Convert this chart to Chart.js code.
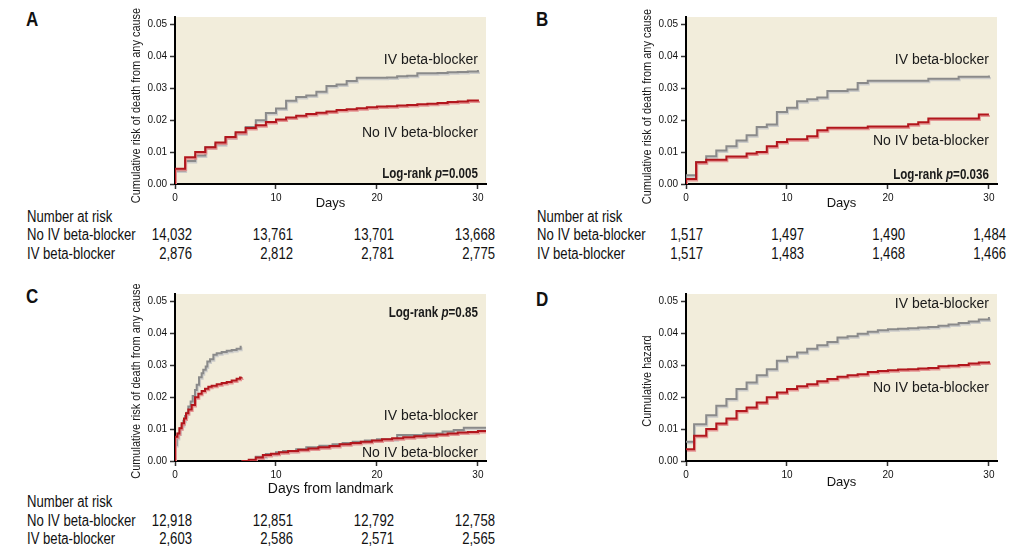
<!DOCTYPE html>
<html>
<head>
<meta charset="utf-8">
<script src="https://cdn.jsdelivr.net/npm/chart.js@4.4.1/dist/chart.umd.min.js"></script>
<style>
body { margin: 0; background: #fff; width: 1033px; height: 555px; position: relative; overflow: hidden; }
canvas { position: absolute; }
.letter { position: absolute; font: bold 20px "Liberation Sans", Arial, sans-serif; line-height: 20px; color: #111; transform: scaleX(0.85); transform-origin: left center; }
.risk { position: absolute; font: 16px "Liberation Sans", Arial, sans-serif; line-height: 18px; color: #111; white-space: nowrap; transform: scaleX(0.82); transform-origin: left center; }
.risk.num { text-align: right; transform-origin: right center; }
</style>
</head>
<body>
<div class="letter" style="left:26px;top:9px">A</div>
<div class="letter" style="left:536px;top:9px">B</div>
<div class="letter" style="left:26px;top:286px">C</div>
<div class="letter" style="left:536px;top:289px">D</div>
<canvas id="chartA" width="375" height="215" style="left:125px;top:0px"></canvas>
<canvas id="chartB" width="375" height="215" style="left:636px;top:0px"></canvas>
<canvas id="chartC" width="375" height="220" style="left:125px;top:277px"></canvas>
<canvas id="chartD" width="375" height="215" style="left:636px;top:277px"></canvas>
<script>
var REGULAR = '"Liberation Sans", Arial, sans-serif';

var xTicks = [0, 10, 20, 30];
var yTicks = [0, 0.01, 0.02, 0.03, 0.04, 0.05];
var riskDays = [0, 10, 20, 30];

// A - whole population
var daysA = [0, 0, 1, 2, 3, 4, 5, 6, 7, 8, 9, 10, 11, 12, 13, 14, 15, 16, 17, 18, 19, 20, 21, 22, 23, 24, 25, 26, 27, 28, 29, 30];
var noIvA = [0, 0.0048, 0.0084, 0.0100, 0.0115, 0.0130, 0.0147, 0.0162, 0.0175, 0.0184, 0.0194, 0.0202, 0.0208, 0.0213, 0.0219, 0.0223, 0.0227, 0.0231, 0.0234, 0.0237, 0.0240, 0.0242, 0.0243, 0.0245, 0.0247, 0.0249, 0.0251, 0.0253, 0.0256, 0.0258, 0.0261, 0.0264];
var ivA = [0, 0.0042, 0.0072, 0.0089, 0.0115, 0.0124, 0.0145, 0.0158, 0.0178, 0.0199, 0.0222, 0.0236, 0.0260, 0.0272, 0.0277, 0.0288, 0.0306, 0.0311, 0.0322, 0.0332, 0.0332, 0.0332, 0.0333, 0.0337, 0.0338, 0.0346, 0.0346, 0.0347, 0.0349, 0.0350, 0.0352, 0.0356];
var riskNoA = ['14,032', '13,761', '13,701', '13,668'];
var riskIvA = ['2,876', '2,812', '2,781', '2,775'];

// B - matched
var daysB = [0, 0, 1, 2, 3, 4, 5, 6, 7, 8, 9, 10, 11, 12, 13, 14, 15, 16, 17, 18, 19, 20, 21, 22, 23, 24, 25, 26, 27, 28, 29, 30];
var noIvB = [0, 0.0016, 0.0068, 0.0076, 0.0076, 0.0086, 0.0086, 0.0095, 0.0100, 0.0118, 0.0131, 0.0140, 0.0140, 0.0149, 0.0168, 0.0176, 0.0176, 0.0176, 0.0176, 0.0180, 0.0180, 0.0180, 0.0180, 0.0187, 0.0193, 0.0205, 0.0205, 0.0205, 0.0205, 0.0205, 0.0217, 0.0217];
var ivB = [0, 0.0027, 0.0069, 0.0087, 0.0105, 0.0118, 0.0136, 0.0152, 0.0178, 0.0186, 0.0225, 0.0238, 0.0259, 0.0265, 0.0270, 0.0291, 0.0291, 0.0295, 0.0316, 0.0323, 0.0323, 0.0323, 0.0323, 0.0323, 0.0323, 0.0329, 0.0329, 0.0329, 0.0335, 0.0335, 0.0335, 0.0339];
var riskNoB = ['1,517', '1,497', '1,490', '1,484'];
var riskIvB = ['1,517', '1,483', '1,468', '1,466'];

// C - landmark
var earlyDaysNoC = [0, 0, 0.23, 0.43, 0.66, 0.89, 1.09, 1.32, 1.65, 1.98, 2.31, 2.64, 2.97, 3.3, 3.63, 4.13, 4.62, 5.12, 5.61, 6.1, 6.44, 6.6];
var earlyNoC = [0, 0.0076, 0.0086, 0.0102, 0.0118, 0.0133, 0.0149, 0.0161, 0.0175, 0.0199, 0.0210, 0.0219, 0.0226, 0.0232, 0.0235, 0.0240, 0.0244, 0.0247, 0.0252, 0.0257, 0.0261, 0.0262];
var earlyDaysIvC = [0, 0, 0.17, 0.33, 0.5, 0.66, 0.83, 0.99, 1.16, 1.32, 1.55, 1.75, 1.98, 2.15, 2.38, 2.64, 2.8, 3.04, 3.2, 3.47, 3.8, 4.13, 4.62, 5.12, 5.61, 6.1, 6.5, 6.6];
var earlyIvC = [0, 0.0050, 0.0072, 0.0086, 0.0102, 0.0112, 0.0126, 0.0141, 0.0151, 0.0170, 0.0186, 0.0203, 0.0222, 0.0238, 0.0262, 0.0274, 0.0285, 0.0295, 0.0311, 0.0318, 0.0332, 0.0337, 0.0341, 0.0345, 0.0347, 0.0351, 0.0357, 0.0357];
var lateDaysNoC = [6.6, 7.3, 8.0, 8.7, 9.5, 10.3, 11.2, 12.2, 13.2, 14.2, 15.3, 16.3, 17.4, 18.4, 19.5, 20.5, 21.5, 22.6, 23.7, 24.8, 25.9, 27.0, 28.0, 29.0, 30.0, 30.8];
var lateNoC = [0, 0.0004, 0.0011, 0.0019, 0.0023, 0.0027, 0.0031, 0.0035, 0.0039, 0.0043, 0.0047, 0.0052, 0.0056, 0.0060, 0.0064, 0.0068, 0.0071, 0.0074, 0.0077, 0.0080, 0.0083, 0.0086, 0.0089, 0.0091, 0.0094, 0.0097];
var lateDaysIvC = [6.6, 8.0, 9.0, 10.0, 10.7, 12.0, 13.0, 14.3, 15.6, 16.6, 17.6, 18.8, 20.0, 22.0, 24.6, 26.5, 27.6, 28.6, 30.8];
var lateIvC = [0, 0.0013, 0.0022, 0.0027, 0.0031, 0.0037, 0.0043, 0.0048, 0.0052, 0.0056, 0.0060, 0.0064, 0.0068, 0.0081, 0.0086, 0.0092, 0.0097, 0.0104, 0.0104];
var riskNoC = ['12,918', '12,851', '12,792', '12,758'];
var riskIvC = ['2,603', '2,586', '2,571', '2,565'];

// D - cumulative hazard
var daysD = [0, 0.8, 2, 3, 4, 5, 6, 7, 8, 9, 10, 11, 12, 13, 14, 15, 16, 17, 18, 19, 20, 21, 22, 23, 24, 25, 26, 27, 28, 29, 30];
var noIvD = [0.0037, 0.0079, 0.0100, 0.0117, 0.0133, 0.0156, 0.0167, 0.0183, 0.0199, 0.0214, 0.0225, 0.0234, 0.0240, 0.0249, 0.0256, 0.0263, 0.0268, 0.0271, 0.0278, 0.0281, 0.0284, 0.0286, 0.0287, 0.0289, 0.0291, 0.0296, 0.0298, 0.0300, 0.0305, 0.0308, 0.0312];
var ivD = [0.0060, 0.0115, 0.0143, 0.0173, 0.0194, 0.0225, 0.0245, 0.0268, 0.0287, 0.0313, 0.0326, 0.0339, 0.0351, 0.0362, 0.0372, 0.0386, 0.0390, 0.0398, 0.0404, 0.0409, 0.0412, 0.0413, 0.0415, 0.0417, 0.0419, 0.0423, 0.0427, 0.0431, 0.0436, 0.0442, 0.0450];

var RED = '#b2161c', RED_SHADOW = 'rgba(226,140,140,0.9)';
var GREY = '#8a8a8a', GREY_SHADOW = 'rgba(200,200,200,0.9)';

function steps(days, vals) {
    return days.map(function (d, i) { return { x: d, y: vals[i] }; });
}

function line(days, vals, color, shadow) {
    return {
        data: steps(days, vals),
        borderColor: color,
        shadowColor: shadow,
        borderWidth: 2,
        pointRadius: 0,
        stepped: true,
        fill: false
    };
}

var bgPlugin = {
    id: 'plotBg',
    beforeDraw: function (chart) {
        var a = chart.chartArea, ctx = chart.ctx;
        ctx.save();
        ctx.fillStyle = '#f2eddb';
        ctx.fillRect(a.left, a.top, a.right - a.left, a.bottom - a.top);
        ctx.restore();
    }
};

var shadowPlugin = {
    id: 'lineShadow',
    beforeDatasetDraw: function (chart, args) {
        var ctx = chart.ctx;
        ctx.save();
        ctx.shadowColor = chart.data.datasets[args.index].shadowColor;
        ctx.shadowOffsetX = 1;
        ctx.shadowOffsetY = 1.5;
        ctx.shadowBlur = 0;
    },
    afterDatasetDraw: function (chart) {
        chart.ctx.restore();
    }
};

// no narrow font installed, so the regular one gets squeezed
var textPlugin = {
    id: 'plotText',
    afterDraw: function (chart, args, opts) {
        var ctx = chart.ctx, xs = chart.scales.x, ys = chart.scales.y, a = chart.chartArea;
        ctx.save();
        ctx.fillStyle = '#1a1a1a';
        ctx.textBaseline = 'middle';
        ctx.textAlign = 'center';
        ctx.font = '13.7px ' + REGULAR;
        ctx.translate(opts.yTitleX, (a.top + a.bottom) / 2 + opts.yTitleShift);
        ctx.rotate(-Math.PI / 2);
        ctx.scale(0.8, 1);
        ctx.fillText(opts.yTitle, 0, 0);
        ctx.restore();

        (opts.items || []).forEach(function (it) {
            var x = xs.getPixelForValue(it.x), y = ys.getPixelForValue(it.y);
            ctx.save();
            ctx.fillStyle = '#1a1a1a';
            ctx.textBaseline = 'middle';
            if (it.p) {
                var parts = [['Log-rank ', 'bold 14.5px ' + REGULAR], ['p', 'italic bold 14.5px ' + REGULAR], ['=' + it.p, 'bold 14.5px ' + REGULAR]];
                var w = 0;
                parts.forEach(function (p) { ctx.font = p[1]; w += ctx.measureText(p[0]).width; });
                ctx.translate(x, y);
                ctx.scale(0.8, 1);
                var cx = -w;
                ctx.textAlign = 'left';
                parts.forEach(function (p) {
                    ctx.font = p[1];
                    ctx.fillText(p[0], cx, 0);
                    cx += ctx.measureText(p[0]).width;
                });
            } else {
                ctx.font = '14px ' + REGULAR;
                ctx.textAlign = 'right';
                ctx.fillText(it.text, x, y);
            }
            ctx.restore();
        });
    }
};

function CreateRiskChart(id, datasets, cfg) {
    var chart = document.getElementById(id).getContext('2d');
    return new Chart(chart, {
        type: 'line',
        data: { datasets: datasets },
        plugins: [bgPlugin, shadowPlugin, textPlugin],
        options: {
            responsive: false,
            animation: false,
            devicePixelRatio: 1,
            layout: { padding: { top: 17, right: 14, left: 0, bottom: 0 } },
            plugins: {
                legend: { display: false },
                tooltip: { enabled: false },
                plotText: { items: cfg.items, yTitle: cfg.yTitle, yTitleX: 11, yTitleShift: cfg.yShift }
            },
            scales: {
                x: {
                    type: 'linear',
                    min: 0,
                    max: 30.8,
                    afterBuildTicks: function (s) { s.ticks = xTicks.map(function (v) { return { value: v }; }); },
                    afterFit: function (s) { s.height = cfg.xHeight; },
                    ticks: { font: { family: REGULAR, size: 10 }, color: '#111', padding: 3, maxRotation: 0, autoSkip: false },
                    grid: { drawOnChartArea: false, drawTicks: true, tickLength: 5, tickColor: '#333', tickWidth: 1.5 },
                    border: { color: '#000', width: 2 },
                    title: { display: true, text: cfg.xTitle, color: '#111', font: cfg.xFont, padding: { top: 0, bottom: cfg.xTitlePad } }
                },
                y: {
                    min: 0,
                    max: 0.0522,
                    afterBuildTicks: function (s) { s.ticks = yTicks.map(function (v) { return { value: v }; }); },
                    afterFit: function (s) { s.width = 50; },
                    ticks: { font: { family: REGULAR, size: 10 }, color: '#111', padding: 3, autoSkip: false,
                        callback: function (v) { return v.toFixed(2); } },
                    grid: { drawOnChartArea: false, drawTicks: true, tickLength: 5, tickColor: '#333', tickWidth: 1.5 },
                    border: { color: '#000', width: 2 }
                }
            }
        }
    });
}

function CreateRiskTable(chart, canvasLeft, left, centers, noRisk, ivRisk) {
    function add(text, x, cy, alignRight) {
        var d = document.createElement('div');
        d.className = alignRight ? 'risk num' : 'risk';
        d.textContent = text;
        d.style.top = (cy - 9) + 'px';
        if (alignRight) {
            d.style.left = (x - 100) + 'px';
            d.style.width = '100px';
        } else {
            d.style.left = x + 'px';
        }
        document.body.appendChild(d);
    }
    add('Number at risk', left, centers[0], false);
    add('No IV beta-blocker', left, centers[1], false);
    add('IV beta-blocker', left, centers[2], false);
    riskDays.forEach(function (d, i) {
        var right = canvasLeft + chart.scales.x.getPixelForValue(d) + 17;
        add(noRisk[i], right, centers[1], true);
        add(ivRisk[i], right, centers[2], true);
    });
}

var daysFont = { family: REGULAR, size: 13, lineHeight: 1 };

var chartA = CreateRiskChart('chartA', [
    line(daysA, noIvA, RED, RED_SHADOW),
    line(daysA, ivA, GREY, GREY_SHADOW)
], {
    xTitle: 'Days', xFont: daysFont, xHeight: 31, xTitlePad: 5,
    yTitle: 'Cumulative risk of death from any cause', yShift: 5,
    items: [
        { text: 'IV beta-blocker', x: 30, y: 0.0388 },
        { text: 'No IV beta-blocker', x: 30, y: 0.0160 },
        { p: '0.005', x: 30, y: 0.0030 }
    ]
});

var chartB = CreateRiskChart('chartB', [
    line(daysB, noIvB, RED, RED_SHADOW),
    line(daysB, ivB, GREY, GREY_SHADOW)
], {
    xTitle: 'Days', xFont: daysFont, xHeight: 31, xTitlePad: 5,
    yTitle: 'Cumulative risk of death from any cause', yShift: 6,
    items: [
        { text: 'IV beta-blocker', x: 30, y: 0.0388 },
        { text: 'No IV beta-blocker', x: 30, y: 0.0134 },
        { p: '0.036', x: 30, y: 0.0028 }
    ]
});

var chartC = CreateRiskChart('chartC', [
    line(earlyDaysNoC, earlyNoC, RED, RED_SHADOW),
    line(lateDaysNoC, lateNoC, RED, RED_SHADOW),
    line(earlyDaysIvC, earlyIvC, GREY, GREY_SHADOW),
    line(lateDaysIvC, lateIvC, GREY, GREY_SHADOW)
], {
    xTitle: 'Days from landmark', xFont: { family: REGULAR, size: 14, lineHeight: 1 }, xHeight: 36, xTitlePad: 1,
    yTitle: 'Cumulative risk of death from any cause', yShift: 3.5,
    items: [
        { p: '0.85', x: 30, y: 0.0463 },
        { text: 'IV beta-blocker', x: 30, y: 0.0141 },
        { text: 'No IV beta-blocker', x: 30, y: 0.0026 }
    ]
});

var chartD = CreateRiskChart('chartD', [
    line(daysD, noIvD, RED, RED_SHADOW),
    line(daysD, ivD, GREY, GREY_SHADOW)
], {
    xTitle: 'Days', xFont: daysFont, xHeight: 31, xTitlePad: 3,
    yTitle: 'Cumulative hazard', yShift: 3.5,
    items: [
        { text: 'IV beta-blocker', x: 30, y: 0.0491 },
        { text: 'No IV beta-blocker', x: 30, y: 0.0229 }
    ]
});

CreateRiskTable(chartA, 125, 27, [217, 234.5, 253.5], riskNoA, riskIvA);
CreateRiskTable(chartB, 636, 537, [217, 234.5, 253.5], riskNoB, riskIvB);
CreateRiskTable(chartC, 125, 27, [501.5, 520.5, 539], riskNoC, riskIvC);
</script>
</body>
</html>
